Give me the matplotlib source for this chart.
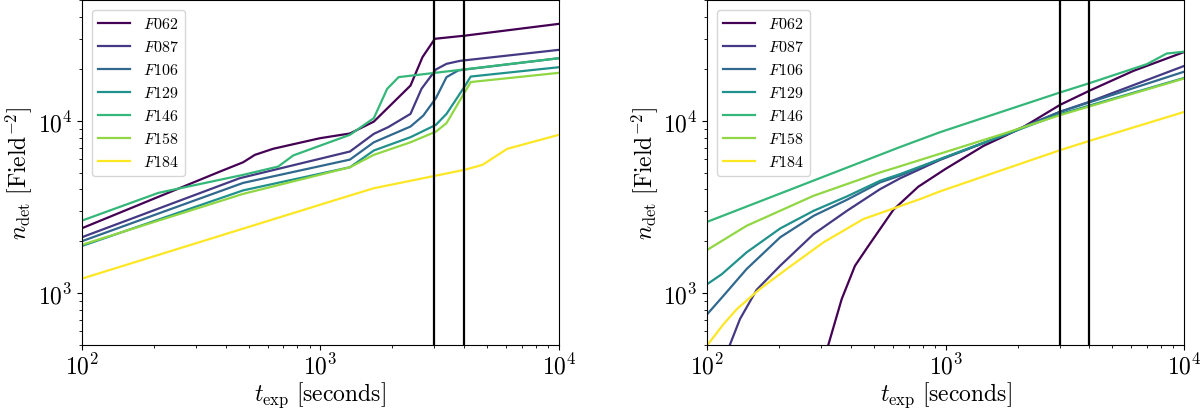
import matplotlib
matplotlib.use("Agg")
import matplotlib.pyplot as plt
import numpy as np

plt.rcParams['font.family'] = 'serif'
plt.rcParams['font.serif'] = ['cmr10', 'DejaVu Serif']
plt.rcParams['mathtext.fontset'] = 'cm'
plt.rcParams['axes.formatter.use_mathtext'] = True
plt.rcParams['axes.unicode_minus'] = False

# filter names (legend order)
filters = ["F062", "F087", "F106", "F129", "F146", "F158", "F184"]

# left panel: n_det vs exposure time
left_t_F062 = [100, 379, 474, 531, 634, 995, 1330, 1675, 2387, 2680, 3020, 4050, 10000]
left_n_F062 = [2383, 5080, 5750, 6350, 6890, 7930, 8450, 9900, 16030, 23440, 29950, 31250, 36560]
left_t_F087 = [100, 459, 1330, 1675, 1923, 2387, 2655, 3050, 3380, 3850, 10000]
left_n_F087 = [2113, 4650, 6640, 8410, 9190, 10980, 15360, 19870, 21430, 22300, 25830]
left_t_F106 = [100, 474, 1330, 1675, 2387, 2700, 3050, 3380, 3780, 4050, 10000]
left_n_F106 = [2004, 4365, 5960, 7510, 9270, 10730, 13540, 17940, 19600, 19870, 23100]
left_t_F129 = [100, 474, 1330, 1675, 2387, 3050, 3380, 4050, 4270, 10000]
left_n_F129 = [1880, 3950, 5380, 6730, 8040, 9480, 10980, 16030, 18080, 20480]
left_t_F146 = [100, 209, 258, 474, 665, 769, 1330, 1675, 1905, 2128, 10000]
left_n_F146 = [2638, 3820, 4065, 4860, 5430, 6300, 8300, 10370, 15340, 17940, 23100]
left_t_F158 = [100, 474, 1330, 1675, 2387, 3050, 3380, 4270, 10000]
left_n_F158 = [1910, 3770, 5380, 6350, 7510, 8660, 9700, 16800, 19000]
left_t_F184 = [100, 1133, 1675, 4050, 4790, 6070, 10000]
left_n_F184 = [1215, 3444, 4065, 5210, 5560, 6880, 8300]

# right panel
right_t_F062 = [310, 321, 366, 416, 474, 603, 767, 995, 1440, 2084, 3020, 4020, 6120, 10000]
right_n_F062 = [420, 497, 925, 1442, 1884, 3050, 4150, 5250, 7160, 9100, 12400, 15000, 19500, 25100]
right_t_F087 = [122, 137, 161, 202, 279, 385, 530, 643, 947, 1690, 3016, 4000, 10000]
right_n_F087 = [470, 708, 1047, 1443, 2203, 3007, 4015, 4640, 5940, 8100, 11300, 12900, 20840]
right_t_F106 = [100, 117, 146, 202, 279, 385, 530, 643, 947, 1690, 3016, 10000]
right_n_F106 = [757, 969, 1380, 2110, 2812, 3484, 4395, 4810, 5995, 8100, 11280, 19300]
right_t_F129 = [100, 115, 146, 202, 279, 385, 530, 643, 947, 1690, 3016, 10000]
right_n_F129 = [1130, 1290, 1725, 2375, 3006, 3645, 4490, 4910, 6000, 8100, 10940, 17750]
right_t_F146 = [100, 643, 947, 3016, 4000, 6970, 8450, 10000]
right_n_F146 = [2597, 7050, 8600, 14620, 16540, 21330, 24600, 25200]
right_t_F158 = [100, 146, 279, 530, 643, 947, 1690, 3016, 10000]
right_n_F158 = [1786, 2460, 3676, 5020, 5450, 6450, 8300, 10800, 17620]
right_t_F184 = [100, 117, 133, 166, 215, 307, 451, 622, 780, 947, 3016, 4000, 10000]
right_n_F184 = [500, 662, 809, 1057, 1380, 1973, 2692, 3148, 3515, 3900, 6760, 7650, 11270]

left_t = [left_t_F062, left_t_F087, left_t_F106, left_t_F129, left_t_F146, left_t_F158, left_t_F184]
left_n = [left_n_F062, left_n_F087, left_n_F106, left_n_F129, left_n_F146, left_n_F158, left_n_F184]
right_t = [right_t_F062, right_t_F087, right_t_F106, right_t_F129, right_t_F146, right_t_F158, right_t_F184]
right_n = [right_n_F062, right_n_F087, right_n_F106, right_n_F129, right_n_F146, right_n_F158, right_n_F184]

# exposure times marked with vertical lines
t_marks = [3000, 4000]

colors = plt.cm.viridis(np.linspace(0, 1, len(filters)))

fig = plt.figure(figsize=(12.01, 4.10), dpi=100)
ax1 = fig.add_axes([0.0683, 0.156, 0.397, 0.8405])
ax2 = fig.add_axes([0.589, 0.156, 0.397, 0.8405])

for ax, ts, ns in [(ax1, left_t, left_n), (ax2, right_t, right_n)]:
    for name, t, n, c in zip(filters, ts, ns, colors):
        ax.plot(t, n, color=c, lw=1.6, label=r'$%s$' % name)
    for tm in t_marks:
        ax.axvline(tm, color='k', lw=1.6)
    ax.set_xscale('log')
    ax.set_yscale('log')
    ax.set_xlim(100, 10000)
    ax.set_ylim(500, 50000)
    ax.set_xlabel(r'$t_{\rm exp}\ [{\rm seconds}]$', fontsize=17)
    ax.set_ylabel(r'$n_{\rm det}\ [{\rm Field}^{-2}]$', fontsize=17)
    ax.xaxis.set_label_coords(0.5, -0.10)
    ax.yaxis.set_label_coords(-0.10, 0.5)
    ax.tick_params(labelsize=17)
    ax.tick_params(axis='x', which='major', pad=2)
    ax.legend(loc='upper left', fontsize=11.5, borderaxespad=0.6)

fig.savefig("out.png", dpi=100)
